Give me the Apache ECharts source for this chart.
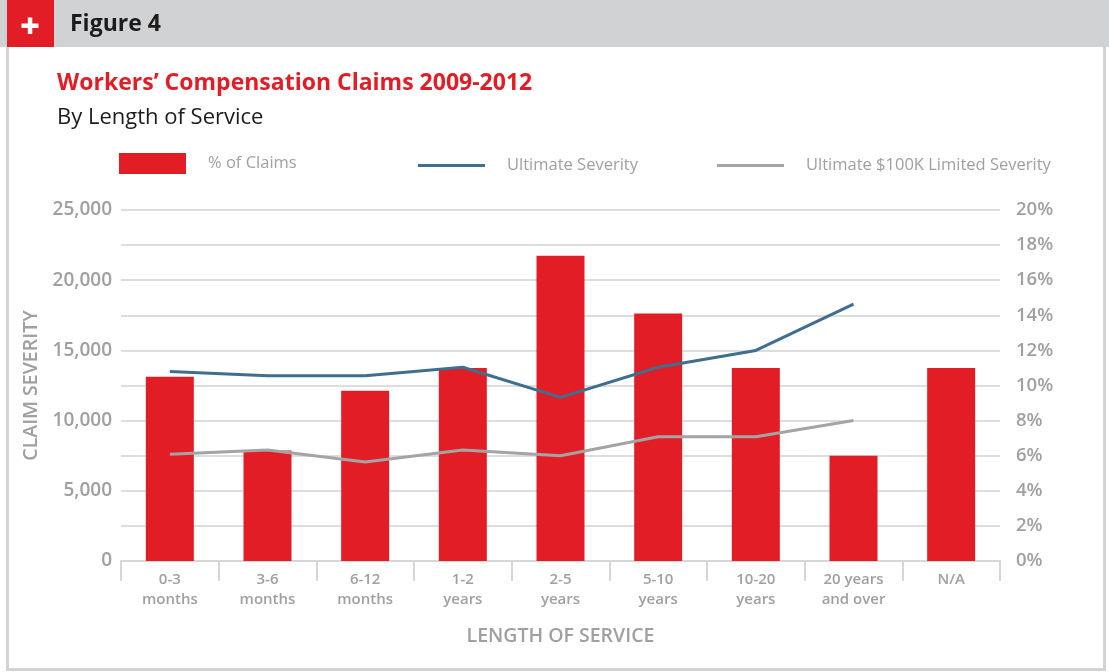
<!DOCTYPE html>
<html>
<head>
<meta charset="utf-8">
<script src="https://cdn.jsdelivr.net/npm/echarts@6/dist/echarts.min.js"></script>
<style>
  html, body { margin: 0; padding: 0; background: #ffffff; }
  #chart { width: 1109px; height: 672px; }
</style>
</head>
<body>
<div id="chart"></div>
<script>
// Length-of-service buckets
const categories = ['0-3\nmonths', '3-6\nmonths', '6-12\nmonths', '1-2\nyears', '2-5\nyears',
                    '5-10\nyears', '10-20\nyears', '20 years\nand over', 'N/A'];
// Share of claims (%) per bucket
const pctClaims = [10.5, 6.3, 9.7, 11.0, 17.4, 14.1, 11.0, 6.0, 11.0];
// Ultimate severity ($) per bucket
const ultimateSeverity = [13500, 13200, 13200, 13800, 11650, 13800, 15000, 18300, null];
// Ultimate $100K limited severity ($) per bucket
const limitedSeverity = [7600, 7900, 7050, 7900, 7500, 8850, 8850, 10000, null];
// Axis tick settings
const severityTicks = { min: 0, max: 25000, interval: 2500, labelStep: 5000 };
const pctTicks = { min: 0, max: 20, interval: 2 };

const RED = '#e21d25';
const BLUE = '#3f6e8f';
const GREY_LINE = '#a4a4a6';
const LABEL = '#a0a0a2';
const FONT = '"Open Sans", Lato, sans-serif';

const chart = echarts.init(document.getElementById('chart'), null, { renderer: 'canvas' });

const legendText = { color: LABEL, fontFamily: FONT, fontSize: 16.5, fontWeight: 500, padding: [0, 0, 0, 17] };
const legendBase = {
  itemWidth: 67,
  icon: 'rect',
  textStyle: legendText,
  selectedMode: false
};

chart.setOption({
  animation: false,
  backgroundColor: '#ffffff',
  textStyle: { fontFamily: FONT },
  graphic: [
    // header band
    { type: 'rect', shape: { x: 0, y: 0, width: 1109, height: 47 }, style: { fill: '#d1d2d4' }, z: 0 },
    { type: 'rect', shape: { x: 7, y: 0, width: 47, height: 47 }, style: { fill: RED }, z: 1 },
    { type: 'rect', shape: { x: 21.5, y: 23.5, width: 17, height: 4.5 }, style: { fill: '#ffffff' }, z: 2 },
    { type: 'rect', shape: { x: 27.8, y: 17.5, width: 4.5, height: 16.5 }, style: { fill: '#ffffff' }, z: 2 },
    { type: 'text', x: 70, y: 24, style: { text: 'Figure 4', fill: '#1c1c1c', font: 'bold 23px ' + FONT, verticalAlign: 'middle' }, z: 2 },
    // panel frame
    { type: 'rect', shape: { x: 6, y: 47, width: 3, height: 624 }, style: { fill: '#d3d3d3' }, z: 0 },
    { type: 'rect', shape: { x: 6, y: 668, width: 1100, height: 3 }, style: { fill: '#d3d3d3' }, z: 0 },
    { type: 'rect', shape: { x: 1103, y: 47, width: 3, height: 624 }, style: { fill: '#d3d3d3' }, z: 0 }
  ],
  title: {
    text: 'Workers\u2019 Compensation Claims 2009-2012',
    subtext: 'By Length of Service',
    left: 57,
    top: 72,
    padding: 0,
    itemGap: 12,
    textStyle: { color: RED, fontFamily: FONT, fontSize: 23, fontWeight: 'bold' },
    subtextStyle: { color: '#1c1c1c', fontFamily: FONT, fontSize: 22, fontWeight: 'normal' }
  },
  legend: [
    Object.assign({}, legendBase, {
      left: 114, top: 148, itemHeight: 21, data: ['% of Claims'],
      textStyle: Object.assign({}, legendText, { padding: [4, 0, 0, 17] })
    }),
    Object.assign({}, legendBase, { left: 413, top: 152, itemHeight: 3, data: ['Ultimate Severity'] }),
    Object.assign({}, legendBase, { left: 712, top: 152, itemHeight: 3, data: ['Ultimate $100K Limited Severity'] })
  ],
  grid: { left: 121, right: 109, top: 210, bottom: 111, containLabel: false },
  xAxis: {
    type: 'category',
    data: categories,
    name: 'LENGTH OF SERVICE',
    nameLocation: 'middle',
    nameGap: 65,
    nameTextStyle: { color: LABEL, fontFamily: FONT, fontSize: 19.5, fontWeight: 600 },
    axisLine: { lineStyle: { color: '#d6d6d6', width: 2 } },
    axisTick: { show: true, length: 20, lineStyle: { color: '#d6d6d6', width: 2 } },
    axisLabel: { color: LABEL, fontFamily: FONT, fontSize: 15, fontWeight: 600, lineHeight: 20, margin: 9, interval: 0 }
  },
  yAxis: [
    {
      type: 'value',
      min: severityTicks.min,
      max: severityTicks.max,
      interval: severityTicks.interval,
      name: 'CLAIM SEVERITY',
      nameLocation: 'middle',
      nameGap: 79,
      nameTextStyle: { color: LABEL, fontFamily: FONT, fontSize: 19.5, fontWeight: 600 },
      axisLine: { show: false },
      axisTick: { show: false },
      splitLine: { lineStyle: { color: '#dddddd', width: 2 } },
      axisLabel: {
        color: LABEL, fontFamily: FONT, fontSize: 19, fontWeight: 600, margin: 9,
        formatter: v => (v % severityTicks.labelStep === 0 ? v.toLocaleString('en-US') : '')
      }
    },
    {
      type: 'value',
      position: 'right',
      min: pctTicks.min,
      max: pctTicks.max,
      interval: pctTicks.interval,
      axisLine: { show: false },
      axisTick: { show: false },
      splitLine: { show: false },
      axisLabel: { color: LABEL, fontFamily: FONT, fontSize: 18.5, fontWeight: 600, margin: 16, formatter: '{value}%' }
    }
  ],
  series: [
    {
      name: '% of Claims',
      type: 'bar',
      yAxisIndex: 1,
      data: pctClaims,
      barWidth: 48,
      itemStyle: { color: RED },
      z: 2
    },
    {
      name: 'Ultimate Severity',
      type: 'line',
      yAxisIndex: 0,
      data: ultimateSeverity,
      symbol: 'none',
      lineStyle: { color: BLUE, width: 3 },
      itemStyle: { color: BLUE },
      z: 3
    },
    {
      name: 'Ultimate $100K Limited Severity',
      type: 'line',
      yAxisIndex: 0,
      data: limitedSeverity,
      symbol: 'none',
      lineStyle: { color: GREY_LINE, width: 3 },
      itemStyle: { color: GREY_LINE },
      z: 3
    }
  ]
});
</script>
</body>
</html>
